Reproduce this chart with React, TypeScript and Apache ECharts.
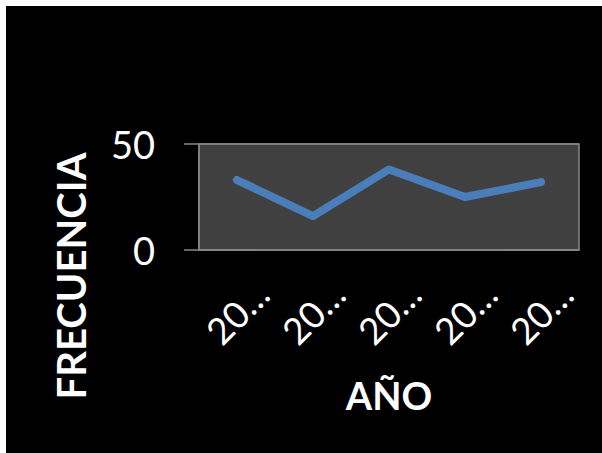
import React, { useEffect, useRef } from "react";
import * as echarts from "echarts";

const years = ["2009", "2010", "2011", "2012", "2013"];
const frecuencia = [33, 16, 38, 25, 32];
const yTicks = { min: 0, max: 50, interval: 50 };
const yTitle = "FRECUENCIA";
const xTitle = "AÑO";

export default function App() {
  const ref = useRef<HTMLDivElement>(null);

  useEffect(() => {
    if (!ref.current) return;
    const chart = echarts.init(ref.current, undefined, { renderer: "svg" });
    chart.setOption({
      animation: false,
      backgroundColor: "#000000",
      grid: {
        left: 193,
        top: 138,
        width: 380,
        height: 106,
        show: true,
        backgroundColor: "#404040",
        borderColor: "#868686",
        borderWidth: 1.5,
      },
      graphic: [
        {
          type: "text",
          x: 65,
          y: 270,
          rotation: Math.PI / 2,
          style: {
            text: yTitle,
            fill: "#ffffff",
            font: "bold 40px Lato",
            textAlign: "center",
            textVerticalAlign: "middle",
          },
        },
      ],
      xAxis: {
        type: "category",
        data: years,
        boundaryGap: true,
        name: xTitle,
        nameLocation: "middle",
        nameGap: 126,
        nameTextStyle: {
          color: "#ffffff",
          fontFamily: "Lato",
          fontWeight: "bold",
          fontSize: 38,
        },
        axisLine: { show: true, lineStyle: { color: "#868686", width: 1.5 } },
        axisTick: { show: false },
        axisLabel: {
          color: "#ffffff",
          fontFamily: "Lato",
          fontSize: 37,
          rotate: 45,
          align: "center",
          verticalAlign: "middle",
          margin: 62,
          formatter: (v: string) => v.slice(0, 2) + "…",
        },
      },
      yAxis: {
        type: "value",
        min: yTicks.min,
        max: yTicks.max,
        interval: yTicks.interval,
        axisLine: { show: true, lineStyle: { color: "#868686", width: 1.5 } },
        axisTick: {
          show: true,
          length: 15,
          lineStyle: { color: "#868686", width: 1.5 },
        },
        splitLine: { show: true, lineStyle: { color: "#868686", width: 1.5 } },
        axisLabel: {
          color: "#ffffff",
          fontFamily: "Lato",
          fontSize: 38,
          margin: 44,
        },
      },
      series: [
        {
          type: "line",
          data: frecuencia,
          symbol: "none",
          lineStyle: { color: "#4a7ebb", width: 8, cap: "round", join: "round" },
        },
      ],
    });
    return () => chart.dispose();
  }, []);

  return (
    <div
      style={{
        position: "fixed",
        left: 0,
        top: 0,
        width: 602,
        height: 453,
        background: "#ffffff",
      }}
    >
      <div
        ref={ref}
        style={{ position: "absolute", left: 6, top: 6, width: 596, height: 447 }}
      />
    </div>
  );
}
